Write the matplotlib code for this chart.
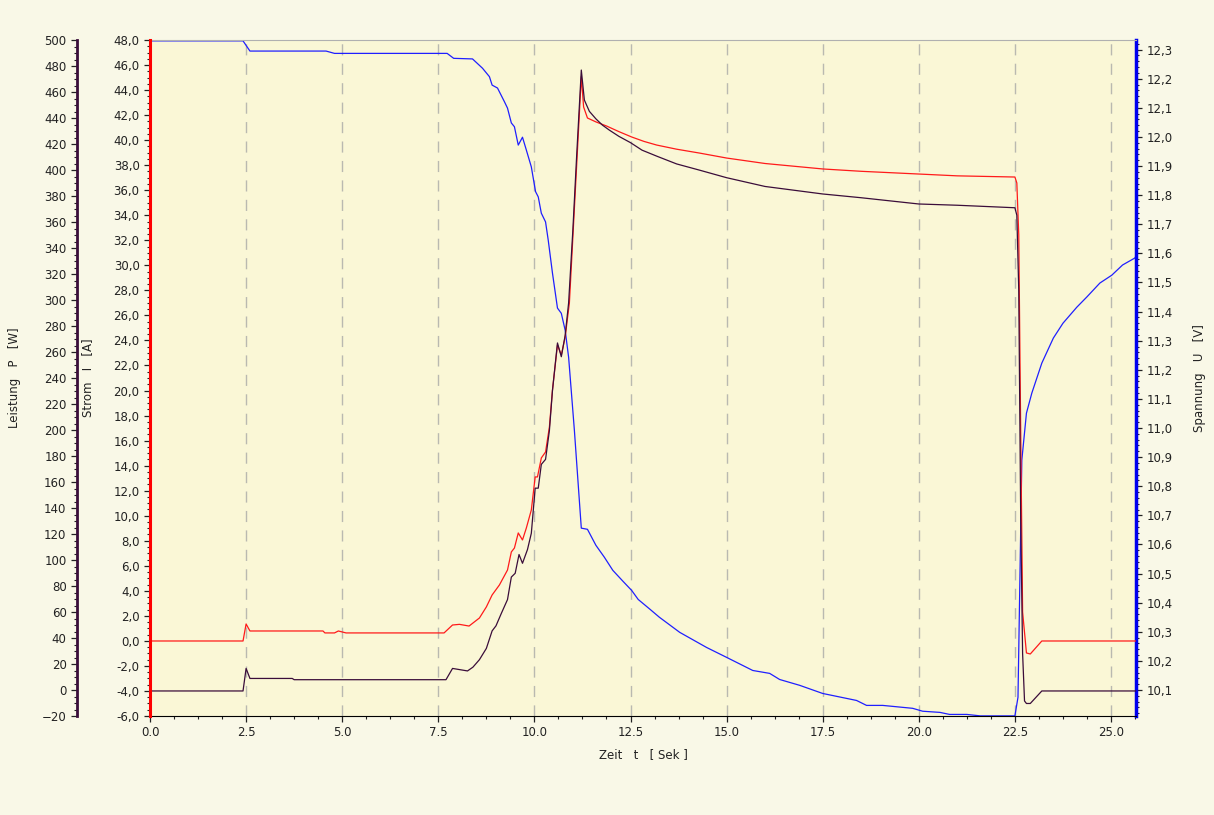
import numpy as np
import matplotlib
matplotlib.use("Agg")
import matplotlib.pyplot as plt
from matplotlib.ticker import MultipleLocator, FuncFormatter

# Strom I [A]
t_strom = [0.0, 2.42, 2.5, 2.6, 3.7, 3.75, 7.7, 7.87, 8.26, 8.4, 8.57, 8.75, 8.9, 9.0,
           9.14, 9.3, 9.4, 9.5, 9.6, 9.69, 9.82, 9.92, 10.02, 10.1, 10.18, 10.29, 10.39,
           10.47, 10.6, 10.7, 10.8, 10.89, 11.0, 11.1, 11.22, 11.3, 11.43, 11.6, 11.77, 11.95,
           12.2, 12.5, 12.8, 13.2, 13.7, 14.3, 15.0, 16.0, 17.5, 18.5, 20.0, 21.0, 22.5, 22.55,
           22.6, 22.65, 22.7, 22.75, 22.8, 22.9, 23.2, 25.65]
strom = [-4.0, -4.0, -2.2, -3.0, -3.0, -3.1, -3.1, -2.2, -2.4, -2.1, -1.5, -0.6, 0.8, 1.2,
         2.2, 3.3, 5.1, 5.4, 6.9, 6.2, 7.3, 8.6, 12.2, 12.2, 14.1, 14.5, 16.8,
         20.0, 23.8, 22.7, 24.4, 27.0, 32.8, 38.8, 45.6, 43.2, 42.3, 41.7, 41.2, 40.8,
         40.3, 39.8, 39.2, 38.7, 38.1, 37.6, 37.0, 36.3, 35.7, 35.4, 34.9, 34.8, 34.6, 34.0,
         28.0, 10.0, -1.0, -4.8, -5.0, -5.0, -4.0, -4.0]

# Leistung P [W]
t_leistung = [0.0, 2.42, 2.5, 2.6, 4.5, 4.55, 4.8, 4.9, 5.1, 7.65, 7.87, 8.05, 8.3, 8.57,
              8.75, 8.9, 9.09, 9.3, 9.4, 9.48, 9.58, 9.69, 9.79, 9.92, 10.02, 10.08, 10.18,
              10.29, 10.39, 10.47, 10.6, 10.7, 10.8, 10.91, 11.0, 11.1, 11.22, 11.28, 11.38,
              11.6, 11.88, 12.2, 12.53, 12.85, 13.18, 13.7, 14.3, 15.0, 16.0, 17.5, 18.5, 20.0,
              21.0, 22.5, 22.55, 22.6, 22.65, 22.7, 22.8, 22.9, 23.2, 25.65]
leistung = [37.7, 37.7, 50.8, 45.4, 45.4, 43.9, 43.9, 45.4, 43.9, 43.9, 50.0, 50.5, 49.2, 55.4,
            63.9, 73.1, 80.8, 92.3, 106.2, 109.2, 120.8, 115.4, 124.6, 138.5, 163.9, 163.9, 178.5,
            183.1, 202.3, 230.8, 265.4, 257.7, 271.5, 297.7, 348.0, 404.0, 471.8, 448.5, 440.0,
            437.0, 433.8, 429.5, 425.4, 422.0, 419.2, 416.0, 413.0, 409.2, 405.0, 400.8, 399.0,
            396.9, 395.5, 394.6, 390.0, 350.0, 200.0, 60.0, 28.5, 27.7, 37.7, 37.7]

# Spannung U [V]
t_spannung = [0.0, 2.42, 2.6, 4.58, 4.8, 7.73, 7.9, 8.39, 8.65, 8.83, 8.9, 9.04, 9.22, 9.3,
              9.4, 9.48, 9.58, 9.69, 9.79, 9.92, 10.03, 10.1, 10.18, 10.29, 10.36, 10.47,
              10.6, 10.7, 10.8, 10.89, 11.04, 11.22, 11.38, 11.6, 11.82, 12.04, 12.3, 12.53,
              12.7, 13.0, 13.25, 13.78, 14.48, 15.0, 15.68, 16.12, 16.38, 16.9, 17.5, 18.38,
              18.64, 19.06, 19.84, 20.1, 20.55, 20.8, 21.25, 21.6, 22.5, 22.58, 22.68, 22.8,
              22.94, 23.2, 23.5, 23.75, 24.11, 24.37, 24.71, 25.02, 25.3, 25.62, 25.65]
spannung = [12.33, 12.33, 12.295, 12.295, 12.287, 12.287, 12.270, 12.268, 12.236, 12.207, 12.178,
            12.168, 12.121, 12.099, 12.048, 12.035, 11.972, 11.999, 11.955, 11.897, 11.812,
            11.794, 11.738, 11.708, 11.645, 11.532, 11.412, 11.394, 11.336, 11.243, 10.992,
            10.656, 10.652, 10.597, 10.556, 10.511, 10.474, 10.442, 10.411, 10.378, 10.35,
            10.298, 10.246, 10.212, 10.167, 10.157, 10.136, 10.116, 10.088, 10.064, 10.047,
            10.047, 10.037, 10.027, 10.023, 10.016, 10.016, 10.011, 10.011, 10.075, 10.89,
            11.051, 11.12, 11.223, 11.309, 11.36, 11.415, 11.45, 11.498, 11.525, 11.56,
            11.584, 11.59]

txt = "#222222"
c_red = "#ff1a1a"
c_purple = "#3a0d3a"
c_blue = "#1f1fff"

plt.rcParams['font.family'] = ['DejaVu Sans']
plt.rcParams['font.size'] = 8.5

fig = plt.figure(figsize=(12.14, 8.15), dpi=100, facecolor="#f9f8e7")
ax = fig.add_axes([150/1214, 99/815, 986/1214, 676/815], facecolor="#faf7d6")

# host axis = Spannung (right side)
ax.plot(t_spannung, spannung, color=c_blue, lw=0.9)
ax.set_xlim(0, 25.65)
ax.set_ylim(10.0106, 12.333)

# Leistung axis (outer left)
axp = ax.twinx()
axp.plot(t_leistung, leistung, color=c_red, lw=0.9)
axp.set_ylim(-20, 500)
axp.yaxis.tick_left()
axp.yaxis.set_label_position('left')
axp.spines['left'].set_position(('outward', 52.6))
axp.spines['left'].set_visible(True)
axp.spines['left'].set_color(c_purple)
axp.spines['left'].set_linewidth(2)
for s in ['right', 'top', 'bottom']:
    axp.spines[s].set_visible(False)
axp.yaxis.set_major_locator(MultipleLocator(20))
axp.yaxis.set_minor_locator(MultipleLocator(5))
axp.set_ylabel("Leistung   P   [W]", color=txt)
axp.yaxis.set_label_coords(-0.131, 0.5)
axp.tick_params(which='major', length=4, width=0.9, colors=txt)
axp.tick_params(which='minor', length=2.2, width=0.8, color=txt)

# Strom axis (inner left)
axi = ax.twinx()
axi.plot(t_strom, strom, color=c_purple, lw=0.9)
axi.set_ylim(-6, 48)
axi.yaxis.tick_left()
axi.yaxis.set_label_position('left')
axi.spines['left'].set_visible(True)
axi.spines['left'].set_color("#ff0000")
axi.spines['left'].set_linewidth(2.2)
for s in ['right', 'top', 'bottom']:
    axi.spines[s].set_visible(False)
axi.yaxis.set_major_locator(MultipleLocator(2))
axi.yaxis.set_minor_locator(MultipleLocator(0.5))
axi.yaxis.set_major_formatter(FuncFormatter(lambda v, p: f"{v:.1f}".replace('.', ',')))
axi.set_ylabel("Strom   I   [A]", color=txt)
axi.yaxis.set_label_coords(-0.057, 0.5)
axi.tick_params(which='major', length=4, width=0.9, colors=txt)
axi.tick_params(which='minor', length=2.2, width=0.8, color=txt)

# host settings after twinx (twinx moves host ticks to the left)
ax.yaxis.tick_right()
ax.yaxis.set_label_position('right')
ax.yaxis.set_major_locator(MultipleLocator(0.1))
ax.yaxis.set_minor_locator(MultipleLocator(0.02))
ax.yaxis.set_major_formatter(FuncFormatter(lambda v, p: f"{v:.1f}".replace('.', ',')))
ax.xaxis.set_major_locator(MultipleLocator(2.5))
ax.xaxis.set_minor_locator(MultipleLocator(0.625))
ax.xaxis.set_major_formatter(FuncFormatter(lambda v, p: f"{v:.1f}"))
ax.grid(axis='x', which='major', color="#b9b9b0", linestyle=(0, (8, 6)), lw=1)
ax.set_xlabel("Zeit   t   [ Sek ]", color=txt)
ax.xaxis.set_label_coords(0.5, -0.048)
ax.set_ylabel("Spannung   U   [V]", color=txt, rotation=90)
ax.yaxis.set_label_coords(1.058, 0.5)
ax.spines['left'].set_visible(False)
ax.spines['top'].set_color("#b0b0b0")
ax.spines['right'].set_color("#0000ee")
ax.spines['right'].set_linewidth(2.5)
ax.spines['bottom'].set_color("black")
ax.tick_params(which='major', length=4, width=0.9, colors=txt)
ax.tick_params(which='minor', length=2.2, width=0.8, color=txt)
ax.tick_params(axis='y', which='both', left=False, labelleft=False, right=True, labelright=True)

fig.savefig("out.png", dpi=100, facecolor=fig.get_facecolor())
